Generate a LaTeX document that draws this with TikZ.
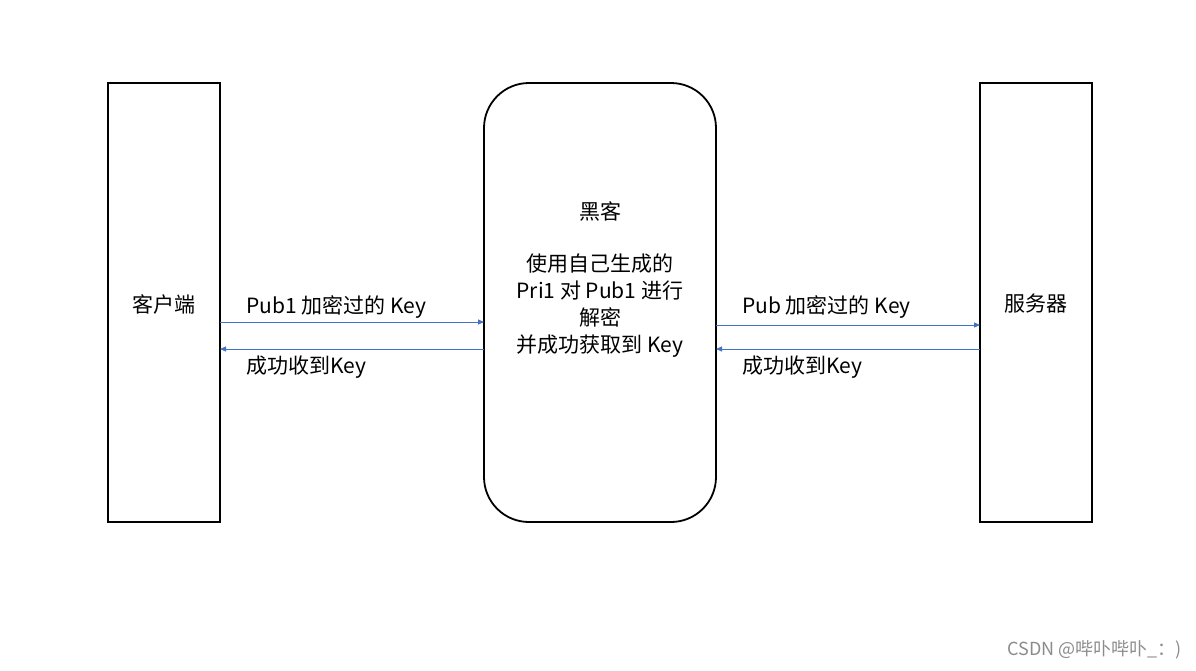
\documentclass[tikz,border=0pt]{standalone}
\usepackage{fontspec}
\setmainfont{Noto Sans CJK SC}
\usetikzlibrary{arrows.meta}
\definecolor{arrowblue}{HTML}{4472C4}
\begin{document}
\begin{tikzpicture}[x=1pt,y=-1pt,
  box/.style={draw=black,line width=1.8pt},
  conn/.style={draw=arrowblue,line width=0.9pt,-{Triangle[length=6pt,width=5pt]}},
  lbl/.style={font=\fontsize{21}{27}\selectfont,anchor=west,inner sep=0pt},
  boxtext/.style={font=\fontsize{21}{27}\selectfont,align=center,inner sep=0pt}]
\useasboundingbox (0,0) rectangle (1196,670);
\fill[white] (0,0) rectangle (1196,670);
% boxes
\draw[box] (108,83) rectangle (220,522);
\draw[box,rounded corners=45pt] (484,83) rectangle (716,522);
\draw[box] (980,83) rectangle (1092,522);
\node[boxtext] (client) at (164,304) {客户端};
\node[boxtext] (server) at (1036,304) {服务器};
\node[boxtext] (hacker) at (600,211) {黑客};
\node[boxtext] (hdesc) at (600,306) {使用自己生成的\\Pri1 对 Pub1 进行\\解密\\并成功获取到 Key};
% connector endpoints
\coordinate (c1) at (220,322); \coordinate (h1) at (484,322);
\coordinate (h2) at (484,349); \coordinate (c2) at (220,349);
\coordinate (h3) at (716,325); \coordinate (s3) at (980,325);
\coordinate (s4) at (980,349); \coordinate (h4) at (716,349);
\draw[conn] (c1) -- (h1);
\draw[conn] (h2) -- (c2);
\draw[conn] (h3) -- (s3);
\draw[conn] (s4) -- (h4);
\node[lbl] (l1) at (246,307) {Pub1 加密过的 Key};
\node[lbl] (l2) at (246,367) {成功收到Key};
\node[lbl] (l3) at (742,307) {Pub 加密过的 Key};
\node[lbl] (l4) at (742,367) {成功收到Key};
\node[font=\fontsize{18}{20}\selectfont,text=black!45,anchor=east,inner sep=0pt] (wm) at (1182,650) {CSDN @哔卟哔卟\_：)};
\end{tikzpicture}
\end{document}
